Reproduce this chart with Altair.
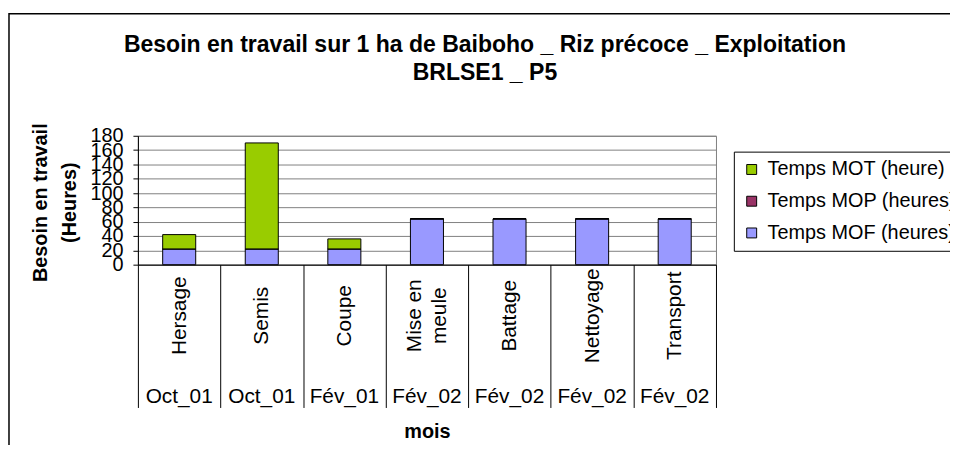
import altair as alt
import pandas as pd

# ---- data ----
taches = ["Hersage", "Semis", "Coupe", "Mise en meule", "Battage", "Nettoyage", "Transport"]
mois = ["Oct_01", "Oct_01", "Fév_01", "Fév_02", "Fév_02", "Fév_02", "Fév_02"]
temps_mot = [20, 148, 14, 0, 0, 0, 0]
temps_mop = [0, 0, 0, 0, 0, 0, 0]
temps_mof = [22, 22, 22, 64, 64, 64, 64]
series = ["Temps MOT (heure)", "Temps MOP (heures)", "Temps MOF (heures)"]
couleurs = ["#99CC00", "#993366", "#9999FF"]
y_ticks = [0, 20, 40, 60, 80, 100, 120, 140, 160, 180]
titre = ["Besoin en travail sur 1 ha de Baiboho _ Riz précoce _ Exploitation", "BRLSE1 _ P5"]

rows = []
for serie, vals, ordre in [(series[2], temps_mof, 0), (series[1], temps_mop, 1), (series[0], temps_mot, 2)]:
    for t, v in zip(taches, vals):
        rows.append({"tache": t, "serie": serie, "valeur": v, "ordre": ordre})
df = pd.DataFrame(rows)
df_mois = pd.DataFrame({"tache": taches, "mois": mois})
df_titre = pd.DataFrame({"titre": [titre]})

FONT = "Liberation Sans"
W, H = 583, 130

xscale = alt.Scale(domain=taches, paddingInner=0, paddingOuter=0)

frame = alt.Chart(pd.DataFrame({"k": [0]})).mark_rect(
    fillOpacity=0, stroke="black", strokeWidth=1.5
).encode(
    x=alt.value(-130), x2=alt.value(850), y=alt.value(-123), y2=alt.value(360)
)

title_text = alt.Chart(df_titre).mark_text(
    font=FONT, fontSize=23.2, fontWeight="bold", color="black",
    align="center", baseline="alphabetic", lineHeight=28,
).encode(x=alt.value(350), y=alt.value(-84), text="titre")

bars = alt.Chart(df).mark_bar(
    stroke="black", strokeWidth=1, width=alt.RelativeBandSize(0.4)
).encode(
    x=alt.X(
        "tache:N", sort=taches, scale=xscale,
        axis=alt.Axis(
            title="mois", titleFontSize=20, titleFontWeight="bold", titleY=168,
            titleBaseline="middle", titleColor="black", titleFont=FONT,
            labelAngle=270, labelAlign="center", labelBaseline="middle",
            labelPadding=-93, labelFontSize=21, labelColor="black", labelFont=FONT,
            labelExpr="datum.label == 'Mise en meule' ? ['Mise en', 'meule'] : datum.label",
            labelLineHeight=25,
            labelOffset={"condition": {"test": "datum.value == 'Mise en meule'", "value": -12}, "value": 0},
            tickBand="extent", tickSize=144, tickColor="black", tickWidth=1,
            domainColor="black", domainWidth=1, grid=False,
        ),
    ),
    y=alt.Y(
        "valeur:Q", stack="zero", scale=alt.Scale(domain=[0, 180], nice=False),
        axis=alt.Axis(
            values=y_ticks, title=["Besoin en travail", "(Heures)"],
            titleFontSize=20, titleFontWeight="bold", titleColor="black", titleFont=FONT,
            titleX=-98, titleY=67, titleAngle=270, titleAlign="center",
            titleBaseline="middle", titleLineHeight=29,
            labelFontSize=20, labelColor="black", labelFont=FONT, labelPadding=10,
            labelOverlap=False, labelBound=False, labelFlush=False,
            tickSize=5, tickColor="black", domainColor="black",
            gridColor="#808080", gridWidth=1,
        ),
    ),
    color=alt.Color(
        "serie:N", scale=alt.Scale(domain=series, range=couleurs),
        legend=alt.Legend(
            orient="none", legendX=601, legendY=16, title=None,
            strokeColor="black", padding=8, symbolType="square", symbolSize=100,
            symbolStrokeColor="black", symbolStrokeWidth=1, labelFontSize=20,
            labelFont=FONT, labelColor="black", labelLimit=400, rowPadding=12,
            labelOffset=6, fillColor="white",
        ),
    ),
    order=alt.Order("ordre:Q"),
)

months = alt.Chart(df_mois).mark_text(fontSize=21, font=FONT, color="black").encode(
    x=alt.X("tache:N", sort=taches, scale=xscale),
    y=alt.value(263),
    text="mois:N",
)

chart = alt.layer(frame, title_text, bars, months).properties(
    width=W, height=H,
    padding={"left": 131, "top": 127, "right": 236, "bottom": 180},
    autosize="none",
).configure_view(stroke="#808080", strokeWidth=1)

chart.save("out.html", embed_options={"renderer": "svg", "actions": False})
